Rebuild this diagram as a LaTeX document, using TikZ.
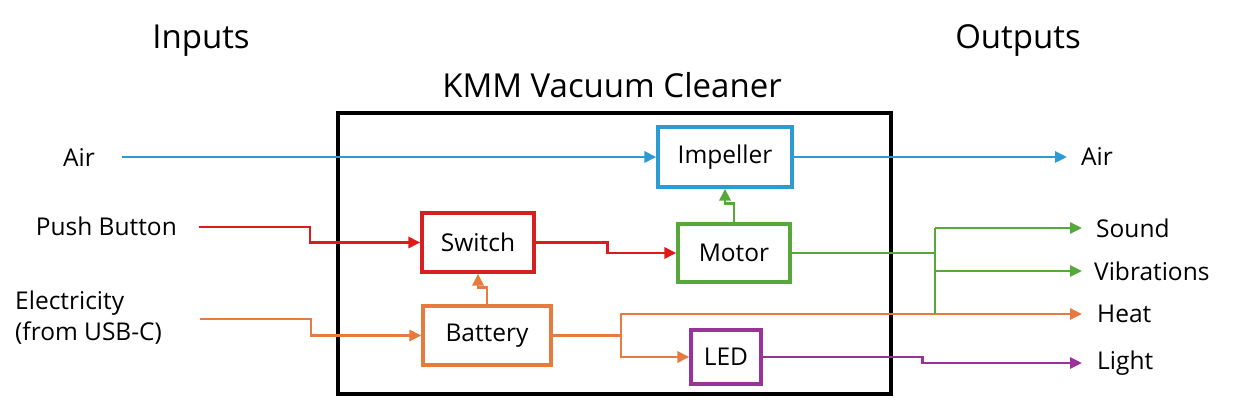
\documentclass[tikz,border=0pt]{standalone}
\usepackage{fontspec}
\setmainfont{Open Sans}
\usetikzlibrary{arrows.meta,calc}
\definecolor{cblue}{HTML}{2A9BD4}
\definecolor{cred}{HTML}{E01A1A}
\definecolor{cdred}{HTML}{D42020}
\definecolor{corange}{HTML}{E57B3C}
\definecolor{cgreen}{HTML}{57A83A}
\definecolor{cpurple}{HTML}{993399}
\tikzset{
  blk/.style={draw, line width=3.2pt, fill=white, inner sep=0pt, font=\fontsize{24.5}{31}\selectfont},
  lbl/.style={inner sep=0pt, font=\fontsize{24.5}{31}\selectfont},
  ttl/.style={inner sep=0pt, font=\fontsize{33}{38}\selectfont},
  wire/.style={line width=2.9pt},
  arr/.style={wire, -{Triangle[length=12pt,width=11pt]}},
}
\begin{document}
\begin{tikzpicture}[x=1pt,y=-1pt]
\useasboundingbox (0,0) rectangle (1245,419);
% titles
\node[ttl] (tin) at (201,41) {Inputs};
\node[ttl] (tout) at (1018,41) {Outputs};
\node[ttl] (tmain) at (612,85) {KMM Vacuum Cleaner};
% main box
\node[draw, line width=3.6pt, minimum width=553pt, minimum height=281pt, inner sep=0pt] (sys) at (614.5,253.5) {};
% blocks
\node[blk, draw=cblue, minimum width=134pt, minimum height=60pt] (imp) at (725,157) {Impeller};
\node[blk, draw=cgreen, minimum width=112pt, minimum height=58pt] (mot) at (734,253) {Motor};
\node[blk, draw=cpurple, minimum width=70pt, minimum height=54pt] (led) at (726,357) {LED};
\node[blk, draw=cdred, minimum width=112pt, minimum height=59pt] (sw) at (478,242.5) {Switch};
\node[blk, draw=corange, minimum width=128pt, minimum height=59pt] (bat) at (487,335.5) {Battery};
% input labels
\node[lbl, anchor=east] (lair) at (95,158) {Air};
\node[lbl, anchor=east] (lpb) at (177,226) {Push Button};
\node[lbl, anchor=west, align=left] (lel) at (15,318) {Electricity\\(from USB-C)};
% output labels
\node[lbl, anchor=west] (oair) at (1081,157) {Air};
\node[lbl, anchor=west] (osound) at (1096,228) {Sound};
\node[lbl, anchor=west] (ovib) at (1094,271) {Vibrations};
\node[lbl, anchor=west] (oheat) at (1097,314) {Heat};
\node[lbl, anchor=west] (olight) at (1097,363) {Light};
% free ends
\coordinate (airsrc) at (122,157);
\coordinate (pbsrc) at (199,227);
\coordinate (elsrc) at (200,319);
\coordinate (airend) at (1067,157);
\coordinate (soundend) at (1082,228);
\coordinate (vibend) at (1082,271);
\coordinate (heatend) at (1082,314);
\coordinate (lightend) at (1082,363);
\coordinate (bj) at (621,335.5);
\coordinate (mj) at (935,253);
% connectors
\draw[arr, cblue] (airsrc) -- (imp.west);
\draw[arr, cblue] (imp.east) -- (airend);
\draw[arr, cred] (pbsrc) -- ++(111,0) |- (sw.west);
\draw[arr, corange] (elsrc) -- ++(111,0) |- (bat.west);
\draw[arr, corange] (bat.north) -- ++(0,-17) -| (sw.south);
\draw[arr, cgreen] (mot.north) -- ++(0,-19) -| (imp.south);
\draw[arr, cred] (sw.east) -- ++(72,0) |- (mot.west);
\draw[wire, corange] (bat.east) -- (bj);
\draw[arr, corange] (bj) |- (heatend);
\draw[arr, corange] (bj) |- (led.west);
\draw[wire, cgreen] (mot.east) -- (mj);
\draw[wire, cgreen] (mj |- soundend) -- (mj |- heatend);
\draw[arr, cgreen] (mj |- soundend) -- (soundend);
\draw[arr, cgreen] (mj |- vibend) -- (vibend);
\draw[arr, cpurple] (led.east) -- ++(160,0) |- (lightend);
\end{tikzpicture}
\end{document}
